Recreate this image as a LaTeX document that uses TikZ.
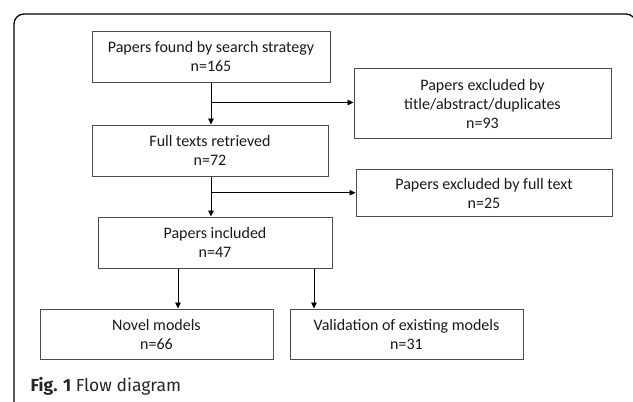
\documentclass[tikz,border=0pt]{standalone}
\usepackage{fontspec}
\setmainfont{Carlito}
\newfontfamily\capfont{Fira Sans}
\usetikzlibrary{arrows.meta}

\tikzset{
  flowbox/.style={draw=black!70, line width=1pt, align=center, inner sep=0pt,
    font=\fontsize{16}{19}\selectfont, text=black!90},
  arr/.style={line width=0.9pt, -{Triangle[length=6pt,width=5.5pt]}},
  framebox/.style={line width=1.3pt, rounded corners=10pt}
}

\begin{document}
\begin{tikzpicture}[x=1pt, y=-1pt]
		\useasboundingbox (0,0) rectangle (633,402);
		
		%% frame
		\draw[framebox] (14,403) -- (14,14) -- (636,14) -- (636,403);
		
		%% boxes
		\node[flowbox, minimum width=238pt, minimum height=51pt] (found) at (211,56.5) {Papers found by search strategy\\n=165};
		\node[flowbox, minimum width=257pt, minimum height=69.5pt] (excltitle) at (482.5,103.7) {Papers excluded by\\title/abstract/duplicates\\n=93};
		\node[flowbox, minimum width=236pt, minimum height=51pt] (full) at (210,150.5) {Full texts retrieved\\n=72};
		\node[flowbox, minimum width=256pt, minimum height=46.7pt] (exclfull) at (484,193.3) {Papers excluded by full text\\n=25};
		\node[flowbox, minimum width=234pt, minimum height=51pt] (incl) at (215,242.5) {Papers included\\n=47};
		\node[flowbox, minimum width=233pt, minimum height=50pt] (novel) at (156.5,334) {Novel models\\n=66};
		\node[flowbox, minimum width=233pt, minimum height=50pt] (valid) at (406.5,334) {Validation of existing models\\n=31};
		
		%% arrows
		\coordinate (split1) at (211,102.5);
		\coordinate (split2) at (211,192.7);
		\draw[arr] (found.south -| split1) -- (full.north -| split1);
		\draw[arr] (split1) -- (split1 -| excltitle.west);
		\draw[arr] (full.south -| split2) -- (incl.north -| split2);
		\draw[arr] (split2) -- (split2 -| exclfull.west);
		\draw[arr] (incl.south -| 178,0) -- (novel.north -| 178,0);
		\draw[arr] (incl.south -| 314,0) -- (valid.north -| 314,0);
		
		%% caption
		\node[anchor=base west, inner sep=0pt, font=\capfont\fontsize{17.5}{20}\selectfont, text=black!85] (cap) at (30.5,391.7) {\textbf{Fig. 1} Flow diagram};
		
	\end{tikzpicture}
\end{document}
